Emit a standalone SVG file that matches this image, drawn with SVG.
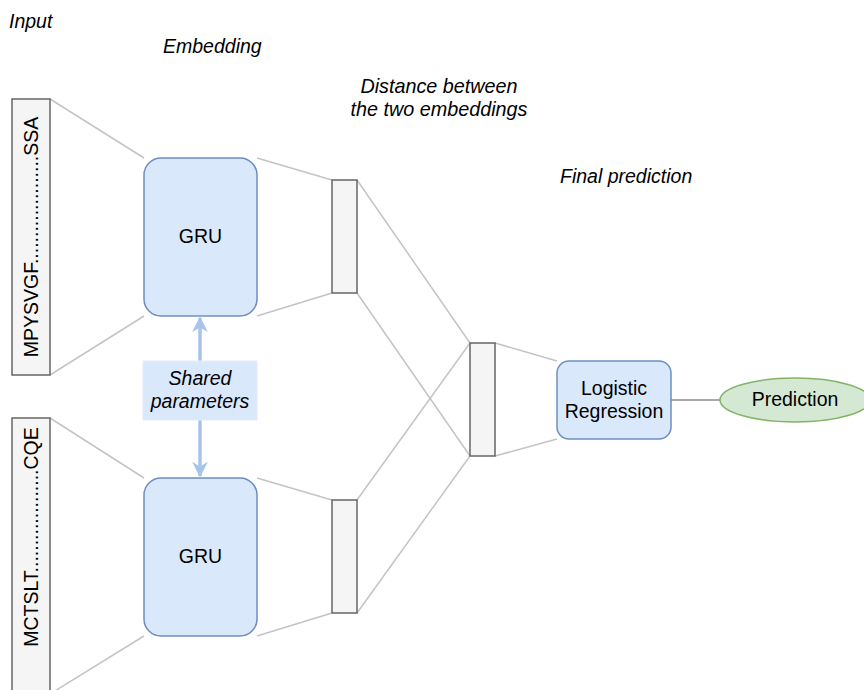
<svg xmlns="http://www.w3.org/2000/svg" width="864" height="690" viewBox="0 0 864 690">
<style>
text{font-family:"Liberation Sans",Arial,sans-serif;font-size:19.5px;fill:#000}
.it{font-style:italic}
.mid{text-anchor:middle}
.seq{fill:#f5f5f5;stroke:#666;stroke-width:1.5}
.gru{fill:#dae8fc;stroke:#6c8ebf;stroke-width:1.5}
.thin{stroke:#c4c4c4;stroke-width:1.5;fill:none}
.dark{stroke:#8c8c8c;stroke-width:1.5;fill:none}
.share{stroke:#a9c4eb;stroke-width:3.5;fill:none}
</style>
<defs>
<marker id="ah" viewBox="0 0 10 10" refX="9" refY="5" markerWidth="4.5" markerHeight="4.5" markerUnits="strokeWidth" orient="auto">
<path d="M0,0 L10,5 L0,10 L3,5 Z" fill="#a9c4eb"/>
</marker>
</defs>
<rect width="864" height="690" fill="#fff"/>
<g id="labels">
<text class="it" x="9" y="28">Input</text>
<text class="it" x="163" y="53">Embedding</text>
<text class="it mid" x="439" y="93" style="font-size:19.8px">Distance between</text>
<text class="it mid" x="439" y="116" style="font-size:19.8px">the two embeddings</text>
<text class="it" x="560" y="183">Final prediction</text>
</g>
<g id="connectors">
<line class="thin" x1="50" y1="99" x2="144" y2="158"/>
<line class="thin" x1="50" y1="375" x2="144" y2="316"/>
<line class="thin" x1="50" y1="418" x2="144" y2="478"/>
<line class="thin" x1="50" y1="694" x2="144" y2="636"/>
<line class="thin" x1="257" y1="158" x2="332" y2="180"/>
<line class="thin" x1="257" y1="316" x2="332" y2="293"/>
<line class="thin" x1="257" y1="478" x2="332" y2="500"/>
<line class="thin" x1="257" y1="636" x2="332" y2="613"/>
<line class="thin" x1="357" y1="180" x2="470" y2="343"/>
<line class="thin" x1="357" y1="293" x2="470" y2="456"/>
<line class="thin" x1="357" y1="500" x2="470" y2="343"/>
<line class="thin" x1="357" y1="613" x2="470" y2="456"/>
<line class="thin" x1="495" y1="343" x2="557" y2="361"/>
<line class="thin" x1="495" y1="456" x2="557" y2="439"/>
<line class="dark" x1="671" y1="400" x2="720" y2="400"/>
<line class="share" x1="200" y1="361" x2="200" y2="318" marker-end="url(#ah)"/>
<line class="share" x1="200" y1="420" x2="200" y2="476" marker-end="url(#ah)"/>
</g>
<g id="input1">
<rect class="seq" x="12" y="99" width="38" height="276"/>
<text class="mid" transform="translate(38,237) rotate(-90)">MPYSVGF....................SSA</text>
</g>
<g id="input2">
<rect class="seq" x="12" y="418" width="38" height="290"/>
<text class="mid" transform="translate(38,537) rotate(-90)">MCTSLT...................CQE</text>
</g>
<g id="gru1">
<rect class="gru" x="144" y="158" width="113" height="158" rx="17"/>
<text class="mid" x="200.5" y="243">GRU</text>
</g>
<g id="gru2">
<rect class="gru" x="144" y="478" width="113" height="158" rx="17"/>
<text class="mid" x="200.5" y="563">GRU</text>
</g>
<g id="shared">
<rect x="143" y="361" width="114" height="59" fill="#dae8fc" stroke="#e3ecf8" stroke-width="1"/>
<text class="it mid" x="200" y="385">Shared</text>
<text class="it mid" x="200" y="408">parameters</text>
</g>
<g id="emb1"><rect class="seq" x="332" y="180" width="25" height="113"/></g>
<g id="emb2"><rect class="seq" x="332" y="500" width="25" height="113"/></g>
<g id="dist"><rect class="seq" x="470" y="343" width="25" height="113"/></g>
<g id="logreg">
<rect class="gru" x="557" y="361" width="114" height="78" rx="12"/>
<text class="mid" x="614" y="395">Logistic</text>
<text class="mid" x="614" y="418">Regression</text>
</g>
<g id="prediction">
<ellipse cx="795" cy="400" rx="75" ry="22" fill="#d5e8d4" stroke="#82b366" stroke-width="1.5"/>
<text class="mid" x="795" y="406">Prediction</text>
</g>
</svg>
